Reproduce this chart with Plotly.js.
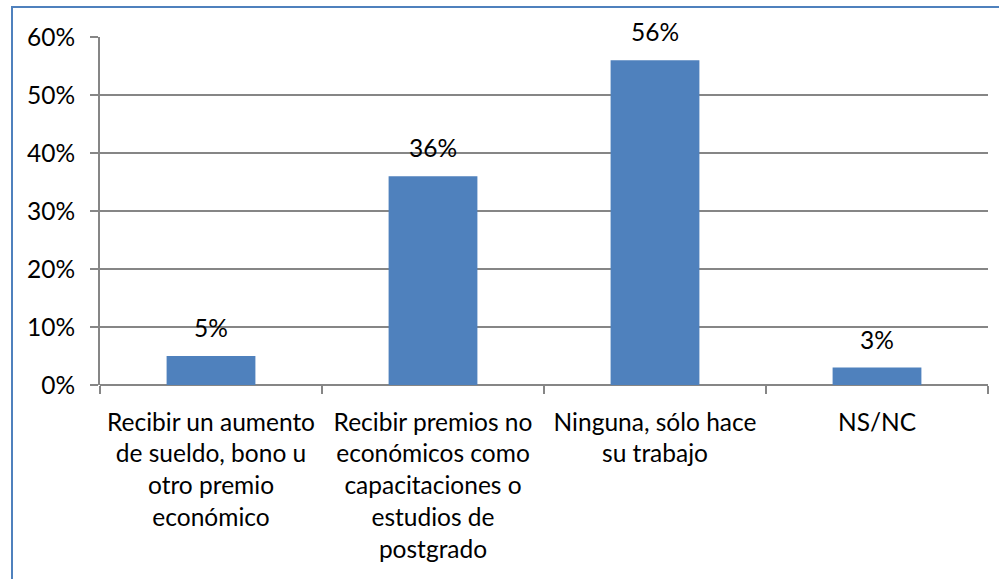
<!DOCTYPE html>
<html><head><meta charset="utf-8">
<script src="https://cdn.plot.ly/plotly-3.0.1.min.js"></script>
<style>
body{margin:0;padding:0;background:#fff;}
#wrap{position:relative;width:999px;height:579px;overflow:hidden;}
#chart{position:absolute;left:0;top:0;width:999px;height:579px;}
#frame{position:absolute;left:11px;top:6px;width:1000px;height:600px;border-left:2px solid #4F81BD;border-top:2px solid #4F81BD;pointer-events:none;}
</style></head>
<body><div id="wrap"><div id="chart"></div><div id="frame"></div></div>
<script>
const categories = [
  "Recibir un aumento<br>de sueldo, bono u<br>otro premio<br>económico",
  "Recibir premios no<br>económicos como<br>capacitaciones o<br>estudios de<br>postgrado",
  "Ninguna, sólo hace<br>su trabajo",
  "NS/NC"
];
const values = [0.05, 0.36, 0.56, 0.03];
const valueLabels = ["5%", "36%", "56%", "3%"];
const yTickVals = [0, 0.1, 0.2, 0.3, 0.4, 0.5, 0.6];
const yTickText = ["0%", "10%", "20%", "30%", "40%", "50%", "60%"];

const font = {family: "Lato, sans-serif", size: 24.5, color: "#000"};
const trace = {
  type: "bar", x: categories, y: values,
  marker: {color: "#4F81BD"}, hoverinfo: "none"
};
const annotations = categories.map((c, i) => ({
  x: c, y: values[i], xref: "x", yref: "y", text: valueLabels[i],
  showarrow: false, yanchor: "bottom", yshift: 12, font: font
}));
const layout = {
  width: 999, height: 579,
  margin: {l: 100, r: 11, t: 37, b: 194},
  paper_bgcolor: "#fff", plot_bgcolor: "#fff",
  showlegend: false, bargap: 0.6, font: font,
  xaxis: {
    type: "category", showgrid: false, showline: false, zeroline: false,
    ticks: "outside", tickson: "boundaries", ticklen: 8, tickcolor: "#868686", tickwidth: 2,
    ticklabelstandoff: 20,
    tickfont: font, automargin: false
  },
  yaxis: {
    range: [0, 0.6], tickvals: yTickVals, ticktext: yTickText,
    showgrid: true, gridcolor: "#868686", gridwidth: 2,
    showline: true, linecolor: "#868686", linewidth: 2,
    zeroline: true, zerolinecolor: "#868686", zerolinewidth: 2,
    ticks: "outside", ticklen: 8, tickcolor: "#868686", tickwidth: 2,
    ticklabelstandoff: 10,
    tickfont: font, automargin: false
  },
  annotations: annotations
};
Plotly.newPlot("chart", [trace], layout, {displayModeBar: false, staticPlot: true});
</script></body></html>
